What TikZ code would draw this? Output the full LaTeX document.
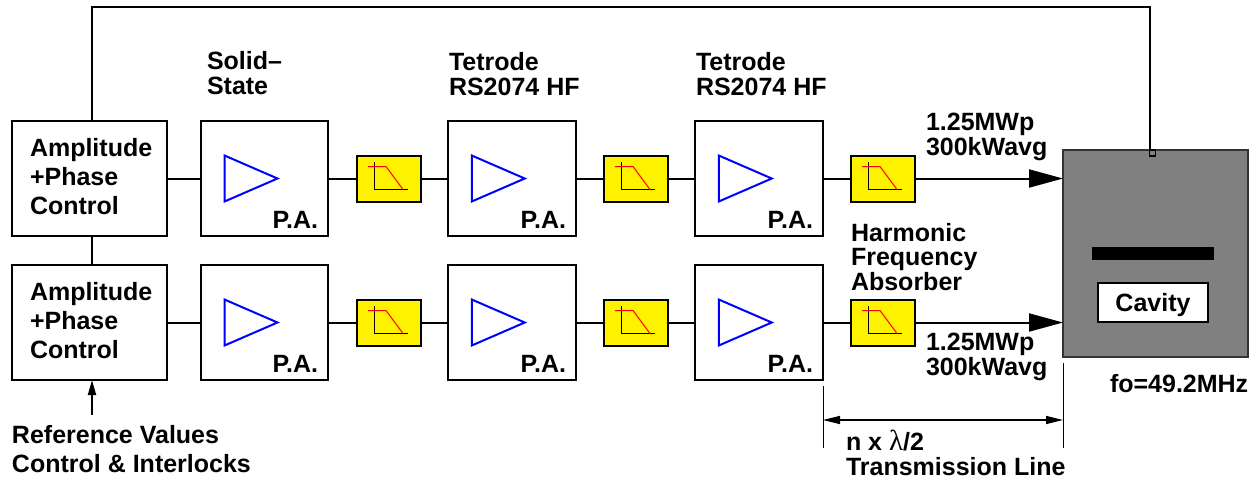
\documentclass[tikz,border=0pt]{standalone}
\usepackage{fontspec}
\setmainfont{Liberation Sans}
\newfontfamily\lambdafont{Liberation Serif}
\usetikzlibrary{positioning,arrows.meta}
\tikzstyle{every node}=[inner sep=0,outer sep=0]
\tikzstyle{ctrlbox}=[draw=black,line width=2pt,minimum width=155pt,minimum height=115pt]
\tikzstyle{pabox}=[draw=black,line width=2pt,minimum width=127.5pt,minimum height=115pt]
\tikzstyle{filterbox}=[draw=black,line width=2pt,fill=yellow,minimum width=64pt,minimum height=46pt]
\tikzstyle{txt}=[font=\fontsize{25}{29}\selectfont\bfseries,align=left,anchor=west]
\tikzstyle{tighttxt}=[txt,font=\fontsize{25}{24.5}\selectfont\bfseries]
\tikzstyle{palabel}=[font=\fontsize{25}{29}\selectfont\bfseries,anchor=base east]
\tikzstyle{wire}=[line width=2pt]
\tikzstyle{thinwire}=[line width=1pt]
\tikzstyle{power}=[line width=2pt,-{Triangle[length=34pt,width=18pt]}]
\tikzset{
  pics/amp/.style={code={
    \draw[blue,line width=2pt,line join=miter] (-40,-23) -- (13,0) -- (-40,23) -- cycle;
  }},
  pics/lowpass/.style={code={
    \draw[line width=1pt] (-15,-17) -- (-15,11) -- (19,11);
    \draw[red,line width=1pt] (-21,-12) -- (-3,-12) -- (14,11);
  }}
}

\begin{document}
\begin{tikzpicture}[x=1pt,y=-1pt]
  \useasboundingbox (0,0) rectangle (1256,480);

  \node [ctrlbox] (ctrla) at (89.5,178.5) {};
  \node [pabox,right=33.75pt of ctrla] (paa) {};
  \node [filterbox,right=28.75pt of paa] (filteraa) {};
  \node [pabox,right=27pt of filteraa] (pab) {};
  \node [filterbox,right=28.5pt of pab] (filterab) {};
  \node [pabox,right=27pt of filterab] (pac) {};
  \node [filterbox,right=28.5pt of pac] (filterac) {};

  \node [ctrlbox] (ctrlb) at (89.5,322.5) {};
  \node [pabox,right=33.75pt of ctrlb] (pba) {};
  \node [filterbox,right=28.75pt of pba] (filterba) {};
  \node [pabox,right=27pt of filterba] (pbb) {};
  \node [filterbox,right=28.5pt of pbb] (filterbb) {};
  \node [pabox,right=27pt of filterbb] (pbc) {};
  \node [filterbox,right=28.5pt of pbc] (filterbc) {};

  \node [draw=black!80,line width=2pt,fill=black!50,minimum width=185pt,minimum height=207pt] (cavity) at (1155.5,253.5) {};
  \node [fill=black,minimum width=122pt,minimum height=13pt] (gapbar) at (1153,253.5) {};
  \node [draw=black,line width=2pt,fill=white,minimum width=110pt,minimum height=39pt,text height=17pt,text depth=0pt,font=\fontsize{25}{29}\selectfont\bfseries] (cavitylabel) at (1153,302.5) {Cavity};
  \node [draw=black,line width=1.5pt,minimum width=6pt,minimum height=6pt] (port) at (1152.5,153) {};

  \pic at (paa) {amp};
  \pic at (pab) {amp};
  \pic at (pac) {amp};
  \pic at (pba) {amp};
  \pic at (pbb) {amp};
  \pic at (pbc) {amp};
  \pic at (filteraa) {lowpass};
  \pic at (filterab) {lowpass};
  \pic at (filterac) {lowpass};
  \pic at (filterba) {lowpass};
  \pic at (filterbb) {lowpass};
  \pic at (filterbc) {lowpass};

  \node [palabel] (paa label) at (318,228) {P.A.};
  \node [palabel] (pab label) at (566,228) {P.A.};
  \node [palabel] (pac label) at (813,228) {P.A.};
  \node [palabel] (pba label) at (318,372) {P.A.};
  \node [palabel] (pbb label) at (566,372) {P.A.};
  \node [palabel] (pbc label) at (813,372) {P.A.};

  \node [txt] (ctrla text) at (30,177) {Amplitude\\+Phase\\Control};
  \node [txt] (ctrlb text) at (30,321) {Amplitude\\+Phase\\Control};
  \node [tighttxt] (solid text) at (207,73) {Solid–\\State};
  \node [tighttxt] (tetrodea text) at (449,74) {Tetrode\\RS2074 HF};
  \node [tighttxt] (tetrodeb text) at (696,74) {Tetrode\\RS2074 HF};
  \node [tighttxt] (powera text) at (926,137) {1.25MWp\\300kWavg};
  \node [tighttxt] (powerb text) at (926,357) {1.25MWp\\300kWavg};
  \node [tighttxt] (absorber text) at (851,257) {Harmonic\\Frequency\\Absorber};
  \node [txt] (freq text) at (1110,384) {fo=49.2MHz};
  \node [txt] (ref text) at (12,449) {Reference Values\\Control \& Interlocks};
  \node [tighttxt] (line text) at (846,453) {n x {\lambdafont\mdseries\fontsize{29}{24.5}\selectfont λ}/2\\Transmission Line};

  \draw [wire] (ctrla) -- (paa);
  \draw [wire] (paa) -- (filteraa);
  \draw [wire] (filteraa) -- (pab);
  \draw [wire] (pab) -- (filterab);
  \draw [wire] (filterab) -- (pac);
  \draw [wire] (pac) -- (filterac);
  \draw [wire] (ctrlb) -- (pba);
  \draw [wire] (pba) -- (filterba);
  \draw [wire] (filterba) -- (pbb);
  \draw [wire] (pbb) -- (filterbb);
  \draw [wire] (filterbb) -- (pbc);
  \draw [wire] (pbc) -- (filterbc);
  \draw [power] (filterac.east) -- (filterac.east -| cavity.west);
  \draw [power] (filterbc.east) -- (filterbc.east -| cavity.west);

  \draw [wire] ([xshift=2.5pt]ctrla.south) -- ([xshift=2.5pt]ctrlb.north);
  \coordinate (feedcorner) at (1150,7);
  \draw [wire] ([xshift=2.5pt]ctrla.north) |- (feedcorner) -- (feedcorner |- port.north);

  \coordinate (reffoot) at (92,415);
  \draw [wire,-{Triangle[length=15pt,width=8pt]}] (reffoot) -- (reffoot |- ctrlb.south);

  \coordinate (dimlefttop) at (823,386);
  \coordinate (dimleftfoot) at (823,448);
  \coordinate (dimrighttop) at (1063,363);
  \coordinate (dimrightfoot) at (1063,448);
  \coordinate (dimleft) at (823,420);
  \coordinate (dimright) at (1063,420);
  \draw [thinwire] (dimlefttop) -- (dimleftfoot);
  \draw [thinwire] (dimrighttop) -- (dimrightfoot);
  \draw [thinwire,line width=1.5pt,{Triangle[length=17pt,width=8pt]}-{Triangle[length=17pt,width=8pt]}] (dimleft) -- (dimright);
\end{tikzpicture}
\end{document}
